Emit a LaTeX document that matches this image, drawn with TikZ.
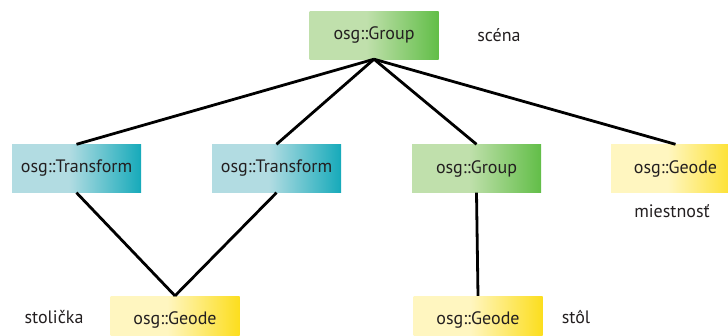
\documentclass[tikz,border=0pt]{standalone}
\usepackage{fontspec}
\setmainfont{PT Sans}
\definecolor{tL}{RGB}{178,220,226}
\definecolor{tR}{RGB}{22,170,186}
\definecolor{gL}{RGB}{192,224,172}
\definecolor{gR}{RGB}{98,190,72}
\definecolor{yL}{RGB}{255,246,192}
\definecolor{yR}{RGB}{252,222,30}
\definecolor{txt}{RGB}{35,31,32}
\pgfdeclarehorizontalshading{tshade}{100bp}{color(0bp)=(tL); color(25bp)=(tL); color(47bp)=(tL); color(75bp)=(tR); color(100bp)=(tR)}
\pgfdeclarehorizontalshading{gshade}{100bp}{color(0bp)=(gL); color(25bp)=(gL); color(47bp)=(gL); color(75bp)=(gR); color(100bp)=(gR)}
\pgfdeclarehorizontalshading{yshade}{100bp}{color(0bp)=(yL); color(25bp)=(yL); color(47bp)=(yL); color(75bp)=(yR); color(100bp)=(yR)}
\begin{document}
\begin{tikzpicture}[x=1pt,y=-1pt,
  box/.style={rectangle, draw=none, minimum width=129pt, minimum height=48pt, inner sep=0pt, font=\fontsize{18}{21}\selectfont, text=txt},
  tbox/.style={box, shading=tshade},
  gbox/.style={box, shading=gshade},
  ybox/.style={box, shading=yshade},
  lbl/.style={font=\fontsize{18}{21}\selectfont, text=txt, inner sep=0pt},
  edge/.style={line width=2.8pt, black}]
\useasboundingbox (0,0) rectangle (728,335);
\clip (0,0) rectangle (728,335);
\node[gbox] (g0) at (374,35) {osg::Group};
\node[tbox] (t1) at (76.5,168.5) {osg::Transform};
\node[tbox] (t2) at (276.5,168.5) {osg::Transform};
\node[gbox] (g1) at (476.5,168.5) {osg::Group};
\node[ybox] (ge) at (675.5,168.5) {osg::Geode};
\node[ybox] (b1) at (175,320) {osg::Geode};
\node[ybox] (b2) at (478,320) {osg::Geode};
\node[lbl] (s0) at (499,35) {scéna};
\node[lbl] (s1) at (672,211) {miestnosť};
\node[lbl] (s2) at (54,317) {stolička};
\node[lbl] (s3) at (576,317) {stôl};
\draw[edge] (g0.south) -- (t1.north);
\draw[edge] (g0.south) -- (t2.north);
\draw[edge] (g0.south) -- (g1.north);
\draw[edge] (g0.south) -- (ge.north);
\draw[edge] (t1.south) -- (b1.north);
\draw[edge] (t2.south) -- (b1.north);
\draw[edge] (g1.south) -- (b2.north);
\end{tikzpicture}
\end{document}
